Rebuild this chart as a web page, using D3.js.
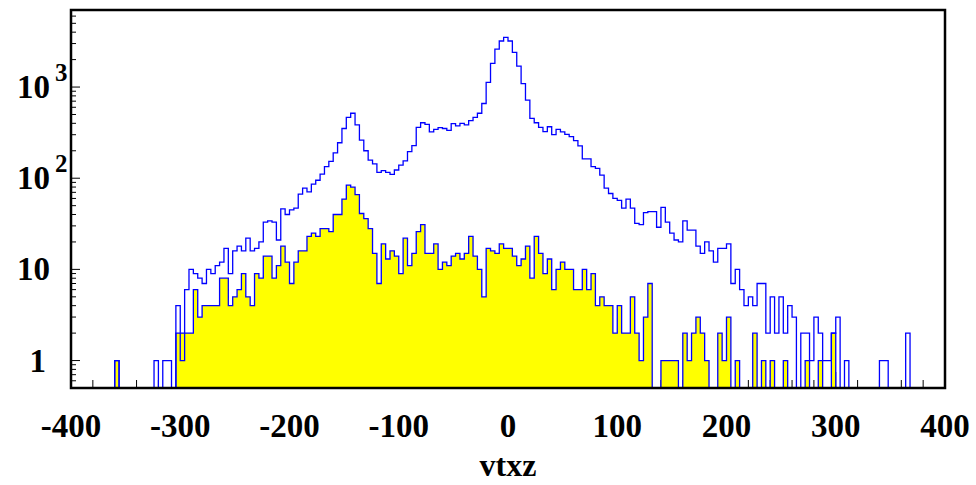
<!DOCTYPE html>
<html><head><meta charset="utf-8">
<script src="https://cdn.jsdelivr.net/npm/d3@7"></script>
<style>body{margin:0;background:#fff} svg{display:block}</style>
</head><body>
<svg id="c" width="976" height="485"></svg>
<script>
// ---- data ----
const xMin = -400, xMax = 400, nBins = 200;
const totalCounts = [
  0,0,0,0,0,0,0,0,0,0,
  1,0,0,0,0,0,0,0,0,1,
  0,1,1,0,4,1,6,10,9,8,
  7,10,9,11,12,17,9,16,18,16,
  22,16,17,20,33,34,33,21,46,40,
  45,47,67,78,71,86,95,111,134,153,
  190,245,351,466,516,384,262,200,158,144,
  116,121,116,110,123,139,155,196,228,362,
  406,390,322,344,358,351,334,397,375,400,
  384,428,466,516,660,1125,1820,2600,3200,3500,
  3200,2400,1700,1090,720,454,406,362,325,367,
  300,344,322,303,286,259,226,163,163,134,
  128,108,78,68,60,57,47,59,47,32,
  31,42,43,43,29,48,33,25,21,20,
  34,27,27,18,15,20,16,12,17,17,
  19,7,10,6,4,5,4,7,7,2,
  5,2,5,2,4,3,0,2,2,1,
  3,2,1,1,2,3,0,1,0,0,
  0,0,0,0,0,1,1,0,0,0,
  0,2,0,0,0,0,0,0,0,0
];
const selectedCounts = [
  0,0,0,0,0,0,0,0,0,0,
  1,0,0,0,0,0,0,0,0,0,
  0,0,0,0,2,2,2,2,6,3,
  4,4,4,4,8,8,4,5,6,9,
  5,4,9,8,14,14,8,11,18,12,
  7,12,16,16,23,25,23,28,28,26,
  40,40,59,84,80,66,41,36,28,15,
  7,19,13,16,14,9,22,11,15,26,
  31,15,15,19,10,12,11,14,15,13,
  15,23,14,10,5,17,16,15,19,17,
  17,14,11,13,18,8,23,15,9,13,
  6,10,12,10,10,6,6,10,6,9,
  4,5,4,4,2,4,2,2,5,2,
  1,3,7,0,0,1,1,1,1,0,
  2,1,2,3,2,1,0,0,2,1,
  3,0,1,0,0,0,2,0,1,0,
  1,0,0,1,0,0,0,0,1,0,
  0,1,0,0,2,0,0,0,0,0,
  0,0,0,0,0,0,0,0,0,0,
  0,0,0,0,0,0,0,0,0,0
];
const xTickValues = [-400,-300,-200,-100,0,100,200,300,400];
const yTickValues = [1,10,100,1000];
const yTickBase = ["1","10","10","10"];
const yTickExp = ["","","2","3"];
const xTitle = "vtxz";

// ---- layout ----
const L = 71, R = 945, T = 10, B = 388;
const font = "'Liberation Serif','Times New Roman',serif";
const svg = d3.select("#c");
const x = d3.scaleLinear().domain([xMin, xMax]).range([L, R]);
const y = d3.scaleLog().domain([0.5, 7000]).range([B, T]);
const bw = (xMax - xMin) / nBins;

svg.append("defs").append("clipPath").attr("id","clip")
  .append("rect").attr("x",L).attr("y",T).attr("width",R-L).attr("height",B-T);

// ticks (drawn below histograms)
const tk = svg.append("g").attr("stroke","#000").attr("stroke-width",1);
const xMinor = d3.range(xMin, xMax + 0.001, 20);
xMinor.forEach(v => {
  const major = (v % 100 === 0);
  tk.append("line").attr("x1",x(v)).attr("x2",x(v)).attr("y1",B).attr("y2",B-(major?16:8));
});
const yMinor = [];
[0.1,1,10,100,1000].forEach(d => { for (let k=1;k<10;k++){ const v=d*k; if (v>=0.5 && v<=7000) yMinor.push(v);} });
yMinor.forEach(v => {
  const major = yTickValues.includes(v);
  tk.append("line").attr("x1",L).attr("x2",L+(major?9:5)).attr("y1",y(v)).attr("y2",y(v));
});

function stepPath(vals, closed) {
  const yy = v => v > 0 ? y(v) : B + 3;
  let p = "";
  vals.forEach((v, i) => {
    const x0 = x(xMin + i*bw), x1 = x(xMin + (i+1)*bw);
    if (i === 0) p += `M${x0},${B+3}`;
    p += `L${x0},${yy(v)}L${x1},${yy(v)}`;
  });
  p += `L${x(xMax)},${B+3}`;
  if (closed) p += "Z";
  return p;
}

const plot = svg.append("g").attr("clip-path","url(#clip)");
plot.append("path").attr("d", stepPath(selectedCounts, true))
  .attr("fill","#ffff00").attr("stroke","#0000ff").attr("stroke-width",1.3);
plot.append("path").attr("d", stepPath(totalCounts, false))
  .attr("fill","none").attr("stroke","#0000ff").attr("stroke-width",1.3);

// frame
svg.append("rect").attr("x",L).attr("y",T).attr("width",R-L).attr("height",B-T)
  .attr("fill","none").attr("stroke","#000").attr("stroke-width",2.5);

// x labels
svg.append("g").selectAll("text").data(xTickValues).join("text")
  .attr("x", d => x(d)).attr("y", 437).attr("text-anchor","middle")
  .attr("font-family", font).attr("font-weight","bold").attr("font-size", 33)
  .text(d => d);

// y labels
const yl = svg.append("g").attr("font-family", font).attr("font-weight","bold");
yTickValues.forEach((v, i) => {
  const base = y(v) + 11;
  yl.append("text").attr("x", i === 0 ? 46 : 50).attr("y", base).attr("text-anchor","end")
    .attr("font-size", 33).text(yTickBase[i]);
  if (yTickExp[i]) {
    yl.append("text").attr("x", 55).attr("y", base - 17).attr("font-size", 25).text(yTickExp[i]);
  }
});

// title
svg.append("text").attr("x", 508).attr("y", 476).attr("text-anchor","middle")
  .attr("font-family", font).attr("font-weight","bold").attr("font-size", 32).text(xTitle);
</script>
</body></html>
